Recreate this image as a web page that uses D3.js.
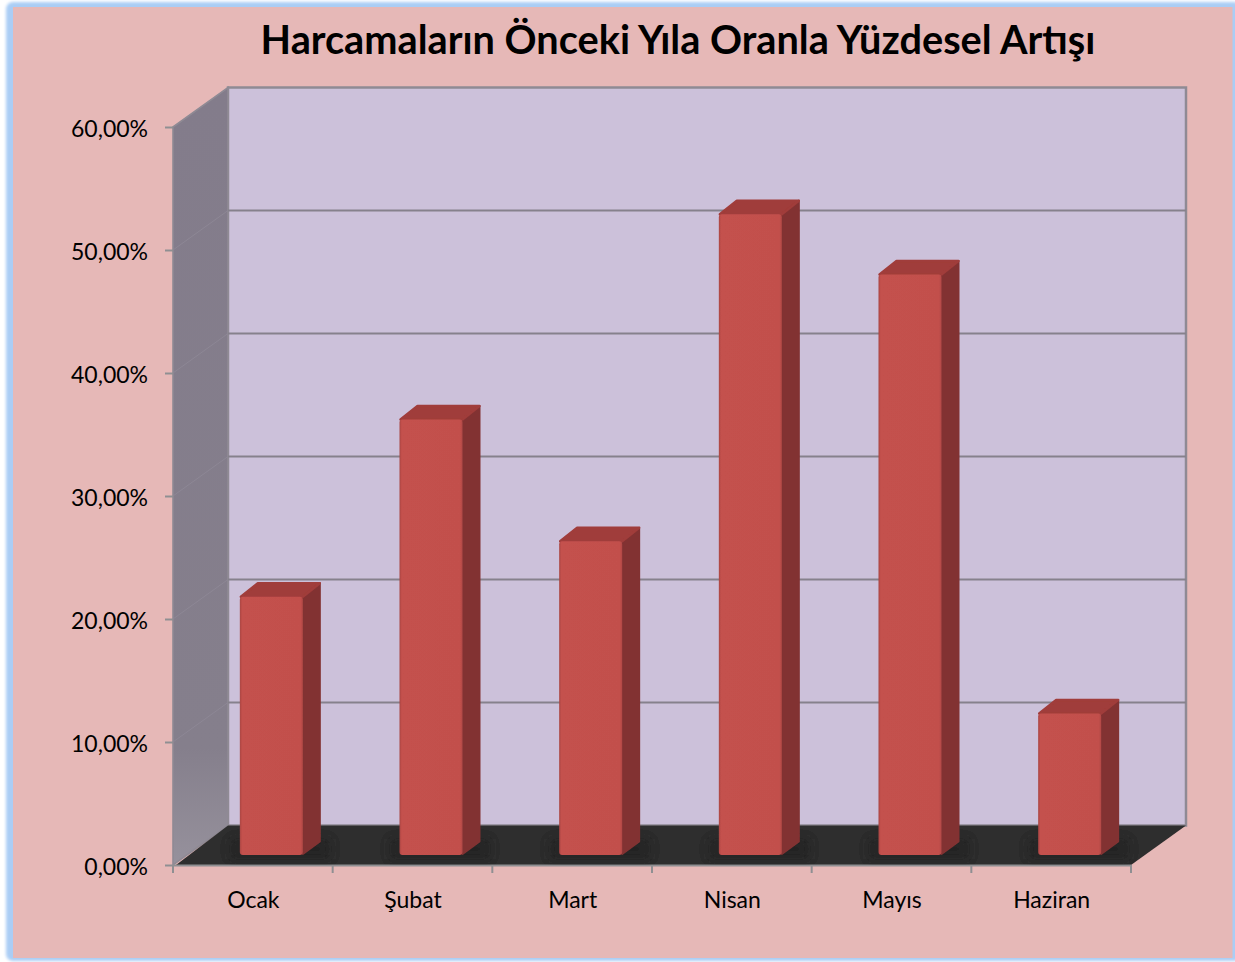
<!DOCTYPE html>
<html><head><meta charset="utf-8">
<script src="https://cdnjs.cloudflare.com/ajax/libs/d3/7.8.5/d3.min.js"></script>
<style>html,body{margin:0;padding:0;background:#fff}svg{display:block}text{font-family:Lato,"Open Sans",sans-serif;fill:#000}</style>
</head><body><svg id="c" width="1235" height="962"></svg>
<script>
const categories = ["Ocak","Şubat","Mart","Nisan","Mayıs","Haziran"];
const seriesValues = [21.0,35.4,25.5,52.1,47.2,11.5];
const tickValues = [0,10,20,30,40,50,60];
const chartTitle = "Harcamaların Önceki Yıla Oranla Yüzdesel Artışı";

const W=1235,H=962;
const front={l:173,r:1131,b:865,t:127};
const depth={dx:55,dy:-39.5};
const barPlane={dx:18.5,dy:-10};
const barDepth={dx:18,dy:-14.5};
const svg=d3.select("#c");
const x=d3.scaleBand().domain(categories).range([front.l,front.r]).paddingInner(0).paddingOuter(0);
const y=d3.scaleLinear().domain([0,60]).range([front.b,front.t]);
const fmt=v=>v.toFixed(2).replace(".",",")+"%";
const pts=a=>a.map(p=>p.join(",")).join(" ");

const defs=svg.append("defs");
const lg=(id,stops,x2=0,y2=1)=>{const g=defs.append("linearGradient").attr("id",id).attr("x1",0).attr("y1",0).attr("x2",x2).attr("y2",y2);
 stops.forEach(s=>g.append("stop").attr("offset",s[0]).attr("stop-color",s[1]));};
lg("wallSide",[[0,"#837c8b"],[.85,"#857f8c"],[1,"#96919c"]]);
lg("barFace",[[0,"#a84542"],[.035,"#c4514d"],[.96,"#c2504c"],[1,"#b04845"]],1,0);
defs.append("filter").attr("id","blur").attr("x","-40%").attr("y","-150%").attr("width","180%").attr("height","400%").append("feGaussianBlur").attr("stdDeviation",6);
defs.append("filter").attr("id","soft").append("feGaussianBlur").attr("stdDeviation",0.55);
defs.append("filter").attr("id","frameSoft").attr("x","-2%").attr("y","-2%").attr("width","104%").attr("height","104%").append("feGaussianBlur").attr("stdDeviation",1.5);
defs.append("clipPath").attr("id","floorClip").append("polygon")
 .attr("points",pts([[front.l+3,y(0)],[front.l+depth.dx,y(0)+depth.dy],[front.r+depth.dx,y(0)+depth.dy],[front.r,y(0)]]));

// chart area
svg.append("rect").attr("x",6).attr("y",2).attr("width",W).attr("height",H-3).attr("rx",7).attr("fill","#aacdf5").attr("filter","url(#frameSoft)");
svg.append("rect").attr("x",13).attr("y",7).attr("width",W-13-2.5).attr("height",951).attr("fill","#e6b8b7");

const plot=svg.append("g").attr("filter","url(#soft)");
// back wall
plot.append("rect").attr("x",front.l+depth.dx).attr("y",front.t+depth.dy).attr("width",front.r-front.l).attr("height",front.b-front.t)
 .attr("fill","#ccc1da").attr("stroke","#8f8a94").attr("stroke-width",2.5);
// side wall
plot.append("polygon").attr("points",pts([[front.l,y(60)],[front.l+depth.dx,y(60)+depth.dy],[front.l+depth.dx,y(0)+depth.dy],[front.l,y(0)]]))
 .attr("fill","url(#wallSide)").attr("stroke","#8f8a94").attr("stroke-width",1.6);
// gridlines
const grid=plot.append("g");
tickValues.slice(1,-1).forEach(v=>{
 grid.append("line").attr("x1",front.l+depth.dx).attr("x2",front.r+depth.dx).attr("y1",y(v)+depth.dy).attr("y2",y(v)+depth.dy).attr("stroke","#86818c").attr("stroke-width",2.2);
 grid.append("line").attr("x1",front.l).attr("x2",front.l+depth.dx).attr("y1",y(v)).attr("y2",y(v)+depth.dy).attr("stroke","#8d8795").attr("stroke-width",1);
});
// floor
plot.append("polygon").attr("points",pts([[front.l+3,y(0)],[front.l+depth.dx,y(0)+depth.dy],[front.r+depth.dx,y(0)+depth.dy],[front.r,y(0)]])).attr("fill","#2e2e2e");
// axes
const yAxis=d3.axisLeft(y).tickValues(tickValues).tickFormat(fmt).tickSize(8).tickPadding(5);
const xAxis=d3.axisBottom(x).tickSize(0).tickPadding(24);
const gx=plot.append("g").attr("transform",`translate(0,${front.b})`).call(xAxis);
gx.select(".domain").attr("stroke","#8f8f92").attr("stroke-width",2.2);
gx.selectAll("text").remove();
plot.append("g").selectAll("line").data(d3.range(0,categories.length+1)).join("line")
 .attr("x1",i=>front.l+i*x.step()).attr("x2",i=>front.l+i*x.step()).attr("y1",front.b).attr("y2",front.b+8).attr("stroke","#8f8f92").attr("stroke-width",2);
const gy=plot.append("g").attr("transform",`translate(${front.l},0)`).call(yAxis);
gy.select(".domain").remove();
gy.selectAll("line").attr("stroke","#8f8f92").attr("stroke-width",2);
gy.selectAll("text").remove();

// bars
const barW=63;
const barX=c=>x(c)+x.bandwidth()/2-barW/2+barPlane.dx;
const base=y(0)+barPlane.dy;
const rows=categories.map((c,i)=>({c,v:seriesValues[i]}));
// contact shadows
plot.append("g").attr("clip-path","url(#floorClip)").selectAll("rect").data(rows).join("rect")
 .attr("x",d=>barX(d.c)-10).attr("y",base-16).attr("width",barW+barDepth.dx+20).attr("height",20)
 .attr("fill","#1a1a1a").attr("opacity",.6).attr("filter","url(#blur)");
const bars=plot.append("g").selectAll("g").data(rows).join("g");
const topY=d=>y(d.v)-(y(0)-base);
bars.append("polygon").attr("points",d=>{const l=barX(d.c),r=l+barW,t=topY(d);
 return pts([[r,t],[r+barDepth.dx-1,t+barDepth.dy+1],[r+barDepth.dx-1,base+barDepth.dy+1],[r,base-1]]);}).attr("fill","#823232").attr("stroke","#823232").attr("stroke-width",2).attr("stroke-linejoin","round");
bars.append("polygon").attr("points",d=>{const l=barX(d.c),r=l+barW,t=topY(d);
 return pts([[l+1,t],[l+barDepth.dx,t+barDepth.dy+1],[r+barDepth.dx-1,t+barDepth.dy+1],[r,t]]);}).attr("fill","#a03c3a").attr("stroke","#a03c3a").attr("stroke-width",2.5).attr("stroke-linejoin","round");
bars.append("rect").attr("x",d=>barX(d.c)).attr("y",topY).attr("width",barW).attr("height",d=>base-topY(d)).attr("rx",3)
 .attr("fill","url(#barFace)");

// text
svg.append("g").selectAll("text").data(tickValues).join("text").attr("x",148).attr("y",d=>y(d)+1.5).attr("dy","0.35em").attr("text-anchor","end").attr("font-size",23).text(fmt);
svg.append("g").selectAll("text").data(categories).join("text").attr("x",c=>x(c)+x.bandwidth()/2+.5).attr("y",900).attr("dy","0.35em").attr("text-anchor","middle").attr("font-size",23).text(c=>c);
svg.append("text").attr("x",678).attr("y",40).attr("dy","0.35em").attr("text-anchor","middle").attr("font-size",39.7).attr("font-weight",700).text(chartTitle);
</script></body></html>
